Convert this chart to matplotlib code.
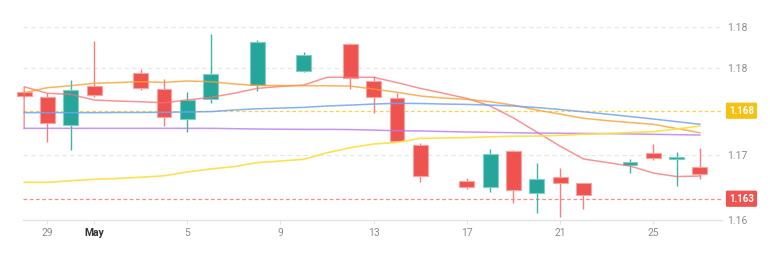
import matplotlib
matplotlib.use("Agg")
import matplotlib.pyplot as plt
import matplotlib.dates as mdates
import pandas as pd

# ---------------- data ----------------
candle_dates = ["2025-04-28", "2025-04-29", "2025-04-30", "2025-05-01", "2025-05-03",
                "2025-05-04", "2025-05-05", "2025-05-06", "2025-05-08", "2025-05-10",
                "2025-05-12", "2025-05-13", "2025-05-14", "2025-05-15", "2025-05-17",
                "2025-05-18", "2025-05-19", "2025-05-20", "2025-05-21", "2025-05-22",
                "2025-05-24", "2025-05-25", "2025-05-26", "2025-05-27"]
opens = [1.16909, 1.16880, 1.16717, 1.16940, 1.17016, 1.16922, 1.16751, 1.16865,
         1.16944, 1.17027, 1.17179, 1.16967, 1.16870, 1.16605, 1.16399, 1.16366,
         1.16571, 1.16331, 1.16423, 1.16388, 1.16491, 1.16558, 1.16527, 1.16482]
highs = [1.16912, 1.16901, 1.16974, 1.17196, 1.17035, 1.16978, 1.16905, 1.17236,
         1.17202, 1.17132, 1.17183, 1.16997, 1.16902, 1.16615, 1.16416, 1.16582,
         1.16577, 1.16501, 1.16473, 1.16391, 1.16524, 1.16611, 1.16567, 1.16590]
lows = [1.16878, 1.16624, 1.16577, 1.16878, 1.16918, 1.16713, 1.16677, 1.16845,
        1.16914, 1.17018, 1.16923, 1.16785, 1.16624, 1.16395, 1.16353, 1.16336,
        1.16277, 1.16217, 1.16198, 1.16243, 1.16444, 1.16520, 1.16372, 1.16410]
closes = [1.16881, 1.16728, 1.16918, 1.16891, 1.16927, 1.16764, 1.16859, 1.17010,
          1.17190, 1.17118, 1.16984, 1.16876, 1.16630, 1.16431, 1.16366, 1.16552,
          1.16351, 1.16414, 1.16388, 1.16321, 1.16507, 1.16530, 1.16537, 1.16439]

line_dates = ["2025-04-28", "2025-04-29", "2025-04-30", "2025-05-01", "2025-05-02",
              "2025-05-03", "2025-05-04", "2025-05-05", "2025-05-06", "2025-05-07",
              "2025-05-08", "2025-05-09", "2025-05-10", "2025-05-11", "2025-05-12",
              "2025-05-13", "2025-05-14", "2025-05-15", "2025-05-16", "2025-05-17",
              "2025-05-18", "2025-05-19", "2025-05-20", "2025-05-21", "2025-05-22",
              "2025-05-23", "2025-05-24", "2025-05-25", "2025-05-26", "2025-05-27"]
red_start = 1.16700
red_line = [1.16936, 1.16899, 1.16893, 1.16861, 1.16855, 1.16851, 1.16845, 1.16861,
            1.16876, 1.16899, 1.16927, 1.16938, 1.16946, 1.16990, 1.16990, 1.16990,
            1.16960, 1.16927, 1.16899, 1.16870, 1.16827, 1.16759, 1.16679, 1.16599,
            1.16526, 1.16506, 1.16486, 1.16446, 1.16426, 1.16429]
orange_line = [1.16902, 1.16931, 1.16942, 1.16956, 1.16960, 1.16965, 1.16961, 1.16969,
               1.16965, 1.16952, 1.16944, 1.16943, 1.16942, 1.16942, 1.16940, 1.16923,
               1.16905, 1.16884, 1.16872, 1.16865, 1.16851, 1.16832, 1.16804, 1.16781,
               1.16757, 1.16744, 1.16733, 1.16723, 1.16699, 1.16675]
blue_line = [1.16789, 1.16789, 1.16789, 1.16789, 1.16790, 1.16790, 1.16791, 1.16793,
             1.16795, 1.16804, 1.16811, 1.16815, 1.16819, 1.16827, 1.16832, 1.16838,
             1.16842, 1.16841, 1.16838, 1.16836, 1.16832, 1.16827, 1.16818, 1.16807,
             1.16794, 1.16781, 1.16767, 1.16753, 1.16738, 1.16723]
purple_line = [1.16700, 1.16700, 1.16700, 1.16700, 1.16700, 1.16700, 1.16700, 1.16700,
               1.16700, 1.16698, 1.16696, 1.16695, 1.16694, 1.16694, 1.16693, 1.16690,
               1.16686, 1.16685, 1.16682, 1.16679, 1.16677, 1.16675, 1.16673, 1.16672,
               1.16671, 1.16670, 1.16668, 1.16666, 1.16664, 1.16662]
yellow_line = [1.16393, 1.16393, 1.16402, 1.16410, 1.16415, 1.16422, 1.16430, 1.16452,
               1.16469, 1.16482, 1.16505, 1.16514, 1.16524, 1.16561, 1.16590, 1.16611,
               1.16620, 1.16643, 1.16645, 1.16647, 1.16652, 1.16655, 1.16656, 1.16660,
               1.16666, 1.16670, 1.16676, 1.16681, 1.16696, 1.16713]

level_high = 1.168
level_low = 1.163
level_high_label = "1.168"
level_low_label = "1.163"

ytick_values = [1.17276, 1.17043, 1.16548, 1.16179]
ytick_labels = ["1.18", "1.18", "1.17", "1.16"]
xtick_dates = ["2025-04-29", "2025-05-01", "2025-05-05", "2025-05-09",
               "2025-05-13", "2025-05-17", "2025-05-21", "2025-05-25"]
xtick_labels = ["29", "May", "5", "9", "13", "17", "21", "25"]

# ---------------- drawing ----------------
W, H = 770, 278
fig = plt.figure(figsize=(W / 100, H / 100), dpi=100)
ax_left, ax_right, ax_bottom, ax_top = 23, 722, 220, 15
ax = fig.add_axes([ax_left / W, (H - ax_bottom) / H,
                   (ax_right - ax_left) / W, (ax_bottom - ax_top) / H])

cx = mdates.date2num(pd.to_datetime(candle_dates))
lx = mdates.date2num(pd.to_datetime(line_dates))
x0 = mdates.date2num(pd.Timestamp("2025-04-29"))
ax.set_xlim(x0 - 1.05, x0 + 28.95)
ax.set_ylim(1.16179, 1.17344)

# grid
for v in ytick_values[:-1]:
    ax.axhline(v, color="#e6e6e6", lw=0.8, ls=(0, (4, 3)), zorder=0)

# candles
up_c, dn_c = "#26a69a", "#ef5350"
up_e, dn_e = "#7fcfc6", "#f7a3a1"
for x, o, h, l, c in zip(cx, opens, highs, lows, closes):
    up = c >= o
    col = up_c if up else dn_c
    wick = "#3fb3a6" if up else "#f47f7c"
    ax.vlines(x, l, h, color=wick, lw=1.0, zorder=2, clip_on=False)
    ax.bar(x, abs(c - o), bottom=min(o, c), width=0.64, color=col,
           edgecolor=up_e if up else dn_e, linewidth=0.8, zorder=3, clip_on=False)

# indicator lines
ax.plot([lx[0]] + list(lx), [red_start] + red_line, color="#f87171", lw=1.1, alpha=0.75, zorder=4)
ax.plot(lx, orange_line, color="#fb9f2e", lw=1.1, alpha=0.8, zorder=4)
ax.plot(lx, blue_line, color="#6ea2f7", lw=1.1, alpha=0.85, zorder=4)
ax.plot(lx, purple_line, color="#b57bf5", lw=1.1, alpha=0.8, zorder=4)
ax.plot(lx, yellow_line, color="#fde047", lw=1.2, alpha=0.95, zorder=4)

# level lines
ax.axhline(level_high, color="#facc15", lw=0.9, ls=(0, (3, 2)), alpha=0.8, zorder=1)
ax.axhline(level_low, color="#f87171", lw=0.9, ls=(0, (3, 2)), alpha=0.8, zorder=1)

badge_x = (741.5 - ax_left) / (ax_right - ax_left)
for val, lab, fc in [(level_high, level_high_label, "#f5c211"),
                     (level_low, level_low_label, "#ef5350")]:
    ax.text(badge_x, val, lab, transform=ax.get_yaxis_transform(),
            ha="center", va="center", fontsize=7, fontweight="bold",
            family="Roboto", color="white", zorder=10, clip_on=False,
            bbox=dict(boxstyle="round,pad=0.32,rounding_size=0.15", fc=fc, ec="none"))

# axes styling
for s in ["top", "left", "right"]:
    ax.spines[s].set_visible(False)
ax.spines["bottom"].set_color("#e3e3e3")
ax.spines["bottom"].set_linewidth(1.0)

ax.yaxis.tick_right()
ax.set_yticks(ytick_values)
ax.set_yticklabels(ytick_labels)
ax.tick_params(axis="y", length=0, pad=4, labelsize=7.5, labelcolor="#8c8c8c")

ax.set_xticks(mdates.date2num(pd.to_datetime(xtick_dates)))
ax.set_xticklabels(xtick_labels)
ax.tick_params(axis="x", length=3, width=0.8, color="#e3e3e3", pad=3,
               labelsize=7.5, labelcolor="#8c8c8c")
for t in ax.get_xticklabels():
    t.set_family("Roboto")
    if t.get_text() == "May":
        t.set_fontweight("bold")
        t.set_color("#333333")
for t in ax.get_yticklabels():
    t.set_family("Roboto")

fig.savefig("out.png", dpi=100)
